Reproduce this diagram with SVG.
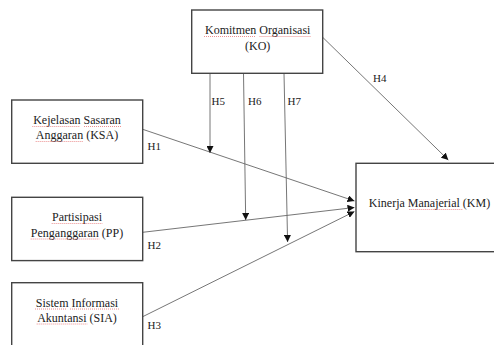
<svg xmlns="http://www.w3.org/2000/svg" width="494" height="345" viewBox="0 0 494 345">
<style>
.box{fill:#fff;stroke:#444;stroke-width:1.4}
.t{font-family:"Liberation Serif","Times New Roman",serif;font-size:12px;fill:#222;text-anchor:middle}
.h{font-family:"Liberation Serif","Times New Roman",serif;font-size:11px;fill:#222}
.c{fill:none;stroke:#666;stroke-width:0.9}
.sp{stroke:#e04848;stroke-width:0.8;stroke-dasharray:1 1;opacity:0.75}
</style>
<defs>
<marker id="arr" viewBox="0 0 10 10" refX="10" refY="5" markerWidth="7" markerHeight="7" markerUnits="userSpaceOnUse" orient="auto">
<path d="M0,0 L10,5 L0,10 z" fill="#111"/>
</marker>
</defs>
<rect width="494" height="345" fill="#fff"/>
<g id="connectors">
<line class="c" x1="142.7" y1="129.3" x2="354.5" y2="201" marker-end="url(#arr)"/>
<line class="c" x1="142.7" y1="232.3" x2="354.5" y2="207.5" marker-end="url(#arr)"/>
<line class="c" x1="142.7" y1="316.7" x2="354.5" y2="211.5" marker-end="url(#arr)"/>
<line class="c" x1="322.7" y1="37.3" x2="448.3" y2="160" marker-end="url(#arr)"/>
<line class="c" x1="210" y1="73.3" x2="210" y2="153" marker-end="url(#arr)"/>
<line class="c" x1="243.5" y1="73.3" x2="245.7" y2="220" marker-end="url(#arr)"/>
<line class="c" x1="284" y1="73.3" x2="287.6" y2="242" marker-end="url(#arr)"/>
<text class="h" x="147.5" y="150">H1</text>
<text class="h" x="147.5" y="249">H2</text>
<text class="h" x="147.5" y="329">H3</text>
<text class="h" x="373" y="82">H4</text>
<text class="h" x="211.5" y="105">H5</text>
<text class="h" x="248" y="105">H6</text>
<text class="h" x="287.5" y="105">H7</text>
</g>
<g id="KO">
<rect class="box" x="191.7" y="10" width="131" height="63.3"/>
<text class="t" x="257.7" y="34">Komitmen Organisasi</text>
<text class="t" x="257.7" y="49.5">(KO)</text>
<line class="sp" x1="204" y1="36.5" x2="256" y2="36.5"/>
<line class="sp" x1="259.5" y1="36.5" x2="311" y2="36.5"/>
</g>
<g id="KSA">
<rect class="box" x="11.7" y="100" width="131" height="63.3"/>
<text class="t" x="77" y="124">Kejelasan Sasaran</text>
<text class="t" x="77" y="139">Anggaran (KSA)</text>
<line class="sp" x1="32.3" y1="126.5" x2="80" y2="126.5"/>
<line class="sp" x1="84" y1="126.5" x2="121.7" y2="126.5"/>
<line class="sp" x1="35.7" y1="141.5" x2="83.3" y2="141.5"/>
</g>
<g id="PP">
<rect class="box" x="11.7" y="197.3" width="131" height="63.3"/>
<text class="t" x="77" y="221">Partisipasi</text>
<text class="t" x="77" y="236.5">Penganggaran (PP)</text>
<line class="sp" x1="51.7" y1="223.5" x2="102.3" y2="223.5"/>
<line class="sp" x1="30.7" y1="239" x2="99.3" y2="239"/>
</g>
<g id="SIA">
<rect class="box" x="11.7" y="282.7" width="131" height="70"/>
<text class="t" x="77" y="306.5">Sistem Informasi</text>
<text class="t" x="77" y="321.5">Akuntansi (SIA)</text>
<line class="sp" x1="35" y1="309" x2="66.7" y2="309"/>
<line class="sp" x1="70" y1="309" x2="119" y2="309"/>
<line class="sp" x1="36.7" y1="324" x2="87.3" y2="324"/>
</g>
<g id="KM">
<rect class="box" x="356" y="163.3" width="150" height="88.4"/>
<text class="t" x="429.5" y="207" style="text-anchor:middle">Kinerja Manajerial (KM)</text>
<line class="sp" x1="409.3" y1="209.5" x2="463.3" y2="209.5"/>
</g>
</svg>
